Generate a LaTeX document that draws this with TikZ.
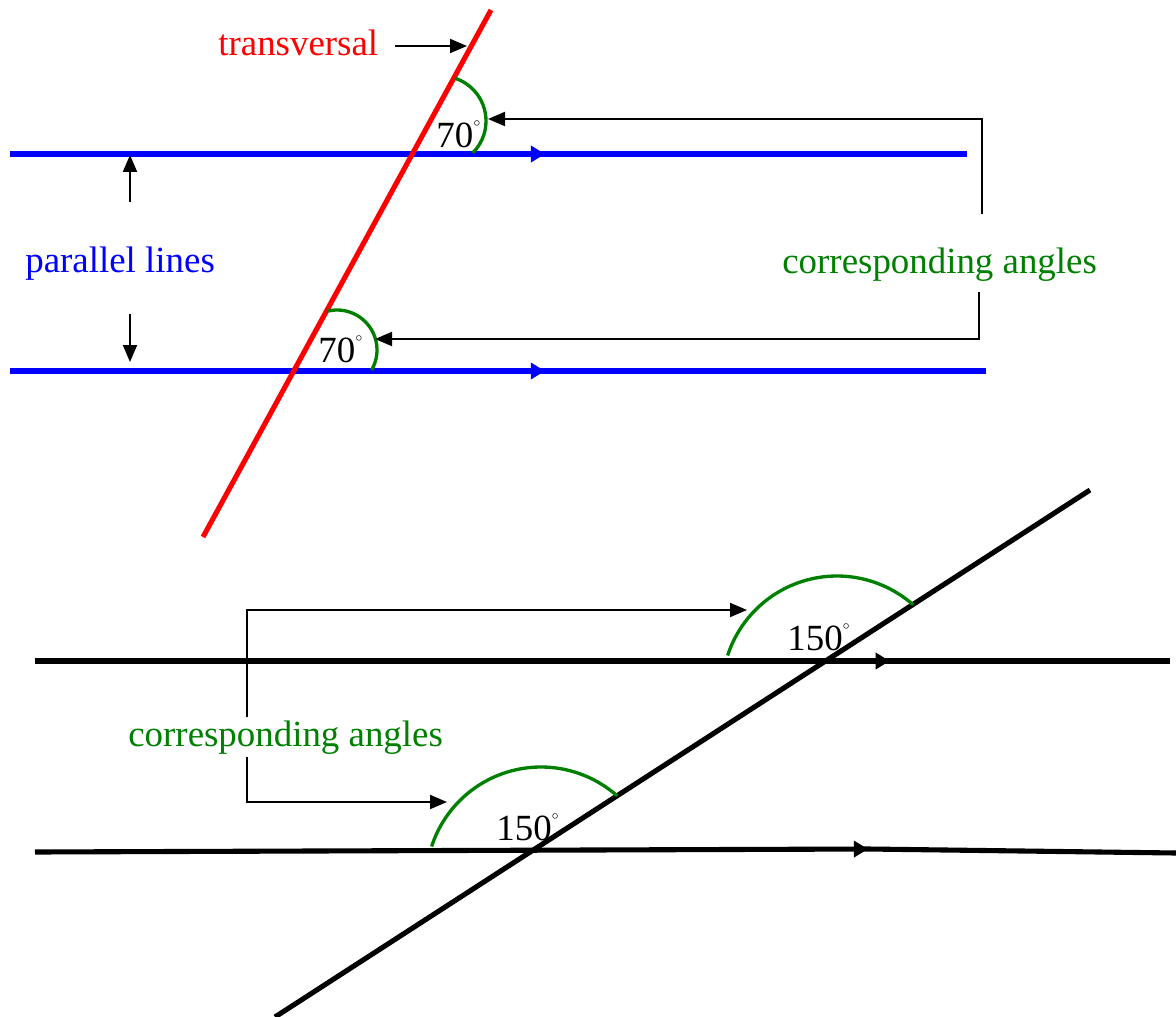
\documentclass[tikz,border=0pt]{standalone}
\usepackage{fontspec}
\setmainfont{Liberation Serif}
\usetikzlibrary{arrows.meta,decorations.markings}
\definecolor{linered}{HTML}{FF0000}
\definecolor{lineblue}{HTML}{0000FF}
\definecolor{anglegreen}{HTML}{008000}
\newcommand{\degmark}{\textsuperscript{\raisebox{0.6ex}{$\scriptscriptstyle\circ$}}}

\begin{document}
\begin{tikzpicture}[
    x=0.02cm, y=-0.02cm,
    txt/.style={font=\fontsize{21}{25}\selectfont, inner sep=0pt, anchor=base west},
    pointer/.style={line width=1.1pt, -{Triangle[length=0.34cm,width=0.28cm]}},
    thickline/.style={line width=2.9pt},
    angarc/.style={anglegreen, line width=1.9pt},
    midarrow/.style={postaction={decorate}, decoration={markings,
        mark=at position #1 with {\arrow{Triangle[length=0.28cm,width=0.32cm]}}}}
  ]
  \useasboundingbox (0,0) rectangle (1176,1017);

  % parallel lines cut by the transversal
  \draw[thickline, lineblue, midarrow=0.559] (10,154) -- (967,154);
  \draw[thickline, lineblue, midarrow=0.548] (10,371) -- (986,371);
  \draw[thickline, linered] (203,537) -- (491,10);
  \draw[angarc] (441,121) ++(-72:45) arc[start angle=-72, end angle=45, radius=45];
  \draw[angarc] (337,350) ++(-103:40) arc[start angle=-103, end angle=30, radius=40];

  \coordinate (transtip) at (467,46);
  \coordinate (transtail) at (395,46);
  \coordinate (uptail) at (130,202);
  \coordinate (uptip) at (130,155);
  \coordinate (downtail) at (130,314);
  \coordinate (downtip) at (130,362);
  \coordinate (arcup) at (488,119);
  \coordinate (arclow) at (375,339);
  \coordinate (brup) at (982,214);
  \coordinate (brlow) at (979,292);

  \draw[pointer] (transtail) -- (transtip);
  \draw[pointer] (uptail) -- (uptip);
  \draw[pointer] (downtail) -- (downtip);
  \draw[pointer] (brup) |- (arcup);
  \draw[pointer] (brlow) |- (arclow);

  \node[txt, linered] (trans) at (218,56) {transversal};
  \node[txt, lineblue] (par) at (25,272) {parallel lines};
  \node[txt, anglegreen] (corrtop) at (782,273) {corresponding angles};
  \node[txt] (angA) at (436,147) {70\degmark};
  \node[txt] (angB) at (318,362) {70\degmark};

  % second pair of lines
  \draw[thickline, midarrow=0.753] (35,661) -- (1170,661);
  \draw[thickline, midarrow=0.73] (35,852) -- (868,849) -- (1176,853);
  \draw[thickline] (275,1017) -- (1090,490);
  \draw[angarc] (837,691) ++(-162:115) arc[start angle=-162, end angle=-48.5, radius=115];
  \draw[angarc] (541,882) ++(-162:115) arc[start angle=-162, end angle=-48.5, radius=115];

  \coordinate (brleft) at (247,730);
  \coordinate (arcC) at (747,610);
  \coordinate (arcD) at (447,802);
  \draw[pointer] (brleft) |- (arcC);
  \draw[pointer] (brleft) |- (arcD);

  \node[txt, anglegreen, fill=white, inner ysep=2pt] (corrbot) at (128,746) {corresponding angles};
  \node[txt] (angC) at (787,650) {150\degmark};
  \node[txt] (angD) at (496,840) {150\degmark};
\end{tikzpicture}
\end{document}
